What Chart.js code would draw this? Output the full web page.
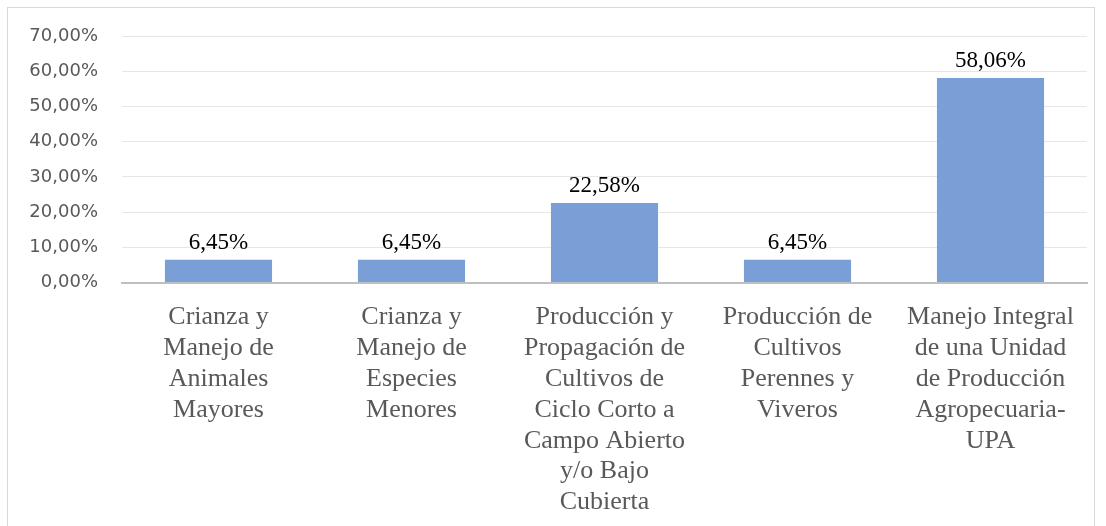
<!DOCTYPE html>
<html>
<head>
<meta charset="utf-8">
<script src="https://cdn.jsdelivr.net/npm/chart.js@4.4.1/dist/chart.umd.min.js"></script>
<style>
  html, body { margin: 0; padding: 0; background: #fff; width: 1106px; height: 526px; overflow: hidden; }
  #frame { position: absolute; left: 7px; top: 7px; width: 1088px; height: 540px; border: 1px solid #d9d9d9; box-sizing: border-box; }
  #wrap { position: absolute; left: 0; top: 0; width: 1106px; height: 526px; }
</style>
</head>
<body>
<div id="frame"></div>
<div id="wrap"><canvas id="c" width="1106" height="526"></canvas></div>
<script>
const categories = [
  ["Crianza y", "Manejo de", "Animales", "Mayores"],
  ["Crianza y", "Manejo de", "Especies", "Menores"],
  ["Producción y", "Propagación de", "Cultivos de", "Ciclo Corto a", "Campo Abierto", "y/o Bajo", "Cubierta"],
  ["Producción de", "Cultivos", "Perennes y", "Viveros"],
  ["Manejo Integral", "de una Unidad", "de Producción", "Agropecuaria-", "UPA"]
];
const values = [6.45, 6.45, 22.58, 6.45, 58.06];
const yTicks = [0, 10, 20, 30, 40, 50, 60, 70];

const SERIF = "'Liberation Serif', 'DejaVu Serif', serif";

function fmt(v) { return v.toFixed(2).replace('.', ',') + '%'; }

const dataLabels = {
  id: 'dataLabels',
  afterDatasetsDraw(chart) {
    const ctx = chart.ctx;
    const meta = chart.getDatasetMeta(0);
    ctx.save();
    ctx.font = "23px " + SERIF;
    ctx.fillStyle = '#000';
    ctx.textAlign = 'center';
    ctx.textBaseline = 'alphabetic';
    meta.data.forEach((bar, i) => {
      ctx.fillText(fmt(values[i]), bar.x, bar.y - 11);
    });
    ctx.restore();
  }
};

new Chart(document.getElementById('c'), {
  type: 'bar',
  data: {
    labels: categories,
    datasets: [{
      data: values,
      backgroundColor: '#7a9fd6',
      borderWidth: 0,
      categoryPercentage: 1,
      barPercentage: 0.555
    }]
  },
  options: {
    responsive: false,
    animation: false,
    devicePixelRatio: 1,
    layout: { padding: { left: 14, right: 19, top: 36, bottom: -3 } },
    plugins: { legend: { display: false }, tooltip: { enabled: false } },
    scales: {
      x: {
        grid: { display: false, drawTicks: false },
        border: { display: true, color: '#bfbfbf', width: 2 },
        ticks: {
          color: '#595959',
          font: { family: SERIF, size: 26, lineHeight: 1.19 },
          padding: 19,
          maxRotation: 0,
          autoSkip: false
        }
      },
      y: {
        min: 0, max: 70,
        afterBuildTicks(axis) { axis.ticks = yTicks.map(v => ({ value: v })); },
        afterFit(axis) { axis.width = 108; },
        grid: { color: '#e6e6e6', lineWidth: 1, drawTicks: false },
        border: { display: false },
        ticks: {
          color: '#595959',
          font: { family: "'DejaVu Sans', sans-serif", size: 18 },
          padding: 24,
          callback: v => fmt(v)
        }
      }
    }
  },
  plugins: [dataLabels]
});
</script>
</body>
</html>
